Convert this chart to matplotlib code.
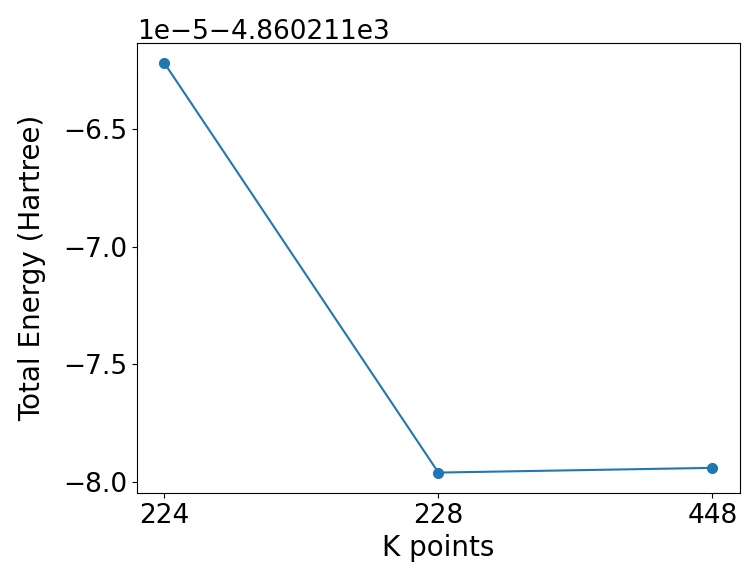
import matplotlib
matplotlib.use("Agg")
import matplotlib.pyplot as plt
from matplotlib.ticker import MultipleLocator

# k-point grids (categorical) and total energies in Hartree
kpoints = ["224", "228", "448"]
energy = [-4860.2110622, -4860.2110796, -4860.2110794]

fig, ax = plt.subplots(figsize=(7.45, 5.7), dpi=100)
fig.subplots_adjust(left=0.184, right=0.993, top=0.925, bottom=0.135)

ax.plot(kpoints, energy, marker="o", color="#1f77b4", markersize=7, lw=1.5)

ax.yaxis.set_major_locator(MultipleLocator(0.5e-5))
ax.set_xlabel("K points", fontsize=20, labelpad=4)
ax.set_ylabel("Total Energy (Hartree)", fontsize=20, labelpad=12)
ax.tick_params(labelsize=19)
ax.yaxis.get_offset_text().set_fontsize(19)

fig.savefig("out.png", dpi=100)
